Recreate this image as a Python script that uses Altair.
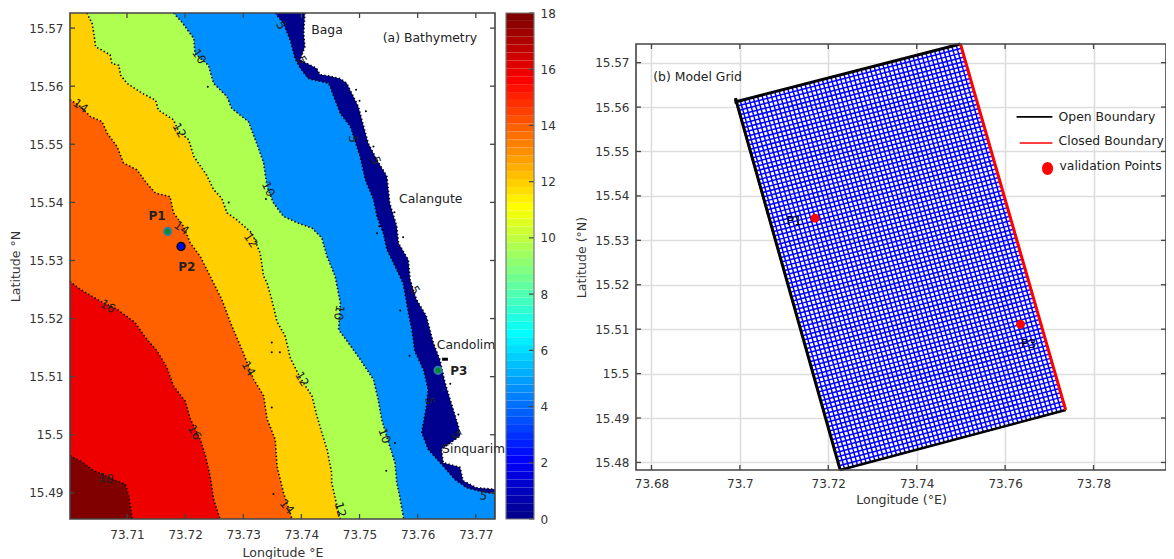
import altair as alt
import pandas as pd

FONT = "DejaVu Sans"
INK = "#333333"
FRAME = "#444444"

# ---------- Panel (a): contour boundaries (lon, lat)
c18_lon = [73.7002,73.7020,73.7043,73.7077,73.7097,73.7103,73.7109]
c18_lat = [15.4964,15.4955,15.4938,15.4923,15.4915,15.4895,15.4855]
c16_lon = [73.7002,73.7020,73.7054,73.7083,73.7114,73.7132,73.7152,73.7169,73.7180,73.7200,73.7209,73.7226,73.7235,73.7243,73.7249,73.7260]
c16_lat = [15.5264,15.5250,15.5230,15.5216,15.5193,15.5167,15.5144,15.5115,15.5084,15.5058,15.5027,15.4992,15.4964,15.4929,15.4889,15.4855]
c14_lon = [73.7002,73.7020,73.7037,73.7057,73.7066,73.7083,73.7094,73.7117,73.7134,73.7149,73.7174,73.7180,73.7197,73.7209,73.7226,73.7243,73.7249,73.7263,73.7278,73.7300,73.7318,73.7335,73.7341,73.7355,73.7358,73.7369,73.7384]
c14_lat = [15.5577,15.5565,15.5548,15.5539,15.5519,15.5496,15.5468,15.5456,15.5433,15.5416,15.5410,15.5382,15.5359,15.5330,15.5307,15.5273,15.5261,15.5233,15.5193,15.5141,15.5095,15.5067,15.5027,15.4992,15.4946,15.4901,15.4855]
c12_lon = [73.7031,73.7040,73.7043,73.7046,73.7071,73.7074,73.7086,73.7089,73.7100,73.7126,73.7149,73.7154,73.7180,73.7189,73.7206,73.7215,73.7237,73.7249,73.7263,73.7272,73.7289,73.7315,73.7329,73.7335,73.7341,73.7349,73.7358,73.7372,73.7381,73.7398,73.7418,73.7426,73.7435,73.7444,73.7452,73.7452,73.7461,73.7467]
c12_lat = [15.5726,15.5708,15.5691,15.5668,15.5654,15.5639,15.5636,15.5619,15.5605,15.5588,15.5576,15.5559,15.5542,15.5522,15.5508,15.5479,15.5447,15.5422,15.5407,15.5382,15.5370,15.5347,15.5313,15.5273,15.5261,15.5233,15.5195,15.5170,15.5132,15.5098,15.5067,15.5035,15.5004,15.4975,15.4935,15.4918,15.4878,15.4855]
c10_lon = [73.7180,73.7194,73.7215,73.7217,73.7240,73.7249,73.7272,73.7280,73.7309,73.7323,73.7335,73.7341,73.7352,73.7369,73.7395,73.7418,73.7435,73.7444,73.7458,73.7467,73.7464,73.7481,73.7501,73.7524,73.7532,73.7538,73.7550,73.7561,73.7564,73.7570,73.7576]
c10_lat = [15.5726,15.5711,15.5682,15.5656,15.5636,15.5605,15.5582,15.5562,15.5539,15.5502,15.5468,15.5427,15.5399,15.5376,15.5364,15.5356,15.5339,15.5307,15.5273,15.5227,15.5181,15.5158,15.5130,15.5095,15.5061,15.5027,15.4986,15.4952,15.4918,15.4889,15.4855]
c5_lon = [73.7355,73.7369,73.7381,73.7389,73.7398,73.7412,73.7447,73.7467,73.7484,73.7501,73.7510,73.7524,73.7530,73.7541,73.7547,73.7564,73.7575,73.7584,73.7590,73.7595,73.7610,73.7618,73.7615,73.7607,73.7618,73.7644,73.7664,73.7684,73.7713,73.7733,73.7733]
c5_lat = [15.5726,15.5708,15.5679,15.5648,15.5631,15.5613,15.5605,15.5553,15.5531,15.5479,15.5439,15.5405,15.5376,15.5347,15.5319,15.5284,15.5261,15.5210,15.5181,15.5144,15.5112,15.5078,15.5049,15.5004,15.4975,15.4946,15.4923,15.4909,15.4901,15.4899,15.4855]
shore_lon = [73.7406,73.7404,73.7406,73.7398,73.7426,73.7432,73.7450,73.7467,73.7478,73.7498,73.7507,73.7515,73.7530,73.7547,73.7552,73.7564,73.7567,73.7584,73.7587,73.7598,73.7615,73.7627,73.7638,73.7647,73.7661,73.7670,73.7673,73.7641,73.7644,73.7673,73.7678,73.7701,73.7733,73.7733]
shore_lat = [15.5726,15.5691,15.5668,15.5645,15.5631,15.5620,15.5617,15.5613,15.5605,15.5565,15.5531,15.5502,15.5473,15.5445,15.5399,15.5359,15.5330,15.5301,15.5267,15.5233,15.5204,15.5158,15.5130,15.5090,15.5044,15.5015,15.4998,15.4975,15.4952,15.4944,15.4921,15.4909,15.4906,15.4855]

stray_lon = [73.7239,73.7339,73.7275,73.7494,73.7500,73.7511,73.7524,73.7560,73.7575,73.7534,73.7530,73.7349,73.7349,73.7363,73.7349,73.7352,73.7570,73.7586,73.7656,73.7670,73.7546,73.7561]
stray_lat = [15.5599,15.5406,15.5400,15.5594,15.5575,15.5557,15.5496,15.5383,15.5340,15.5359,15.5347,15.5159,15.5142,15.5142,15.5047,15.4898,15.5214,15.5136,15.5088,15.5035,15.4938,15.4986]

lab_text = ["10","5","14","12","10","14","12","16","14","16","18","14","12","10","10","12","5","5","5","5","5","5","5"]
lab_lon  = [73.7224,73.7365,73.7020,73.7190,73.7343,73.7194,73.7313,73.7067,73.7309,73.7216,73.7064,73.7375,73.7401,73.7465,73.7543,73.7467,73.7489,73.7528,73.7401,73.7621,73.7595,73.7667,73.7713]
lab_lat  = [15.5651,15.5705,15.5566,15.5524,15.5423,15.5356,15.5335,15.5221,15.5114,15.5004,15.4925,15.4876,15.5096,15.5210,15.4998,15.4871,15.5509,15.5472,15.5645,15.5058,15.5249,15.5000,15.4895]
lab_ang  = [55,60,35,60,65,35,55,30,60,60,10,50,60,100,70,75,90,70,60,80,60,60,10]

place_text = ["Baga","(a) Bathymetry","Calangute","Candolim","Sinquarim"]
place_lon  = [73.7417,73.7540,73.7568,73.7633,73.7642]
place_lat  = [15.5697,15.5683,15.5406,15.5154,15.4975]
bold_text = ["P1","P2","P3"]
bold_lon  = [73.7137,73.7188,73.7656]
bold_lat  = [15.5377,15.5289,15.5109]

pts_lon = [73.7170,73.7635]
pts_lat = [15.5350,15.5111]
p2_lon = [73.7193]
p2_lat = [15.5324]
mark_lon = [73.7642,73.7652]
mark_lat = [15.5130,15.5130]

A_X = [73.7002,73.7733]
A_Y = [15.4855,15.5726]
a_xticks = [73.71,73.72,73.73,73.74,73.75,73.76,73.77]
a_yticks = [15.49,15.50,15.51,15.52,15.53,15.54,15.55,15.56,15.57]

# ---------- Colour bar
jet = ["#00008F","#00009F","#0000AF","#0000BF","#0000CF","#0000DF","#0000EF","#0000FF",
       "#0010FF","#0020FF","#0030FF","#0040FF","#0050FF","#0060FF","#0070FF","#0080FF",
       "#008FFF","#009FFF","#00AFFF","#00BFFF","#00CFFF","#00DFFF","#00EFFF","#00FFFF",
       "#10FFEF","#20FFDF","#30FFCF","#40FFBF","#50FFAF","#60FF9F","#70FF8F","#80FF80",
       "#8FFF70","#9FFF60","#AFFF50","#BFFF40","#CFFF30","#DFFF20","#EFFF10","#FFFF00",
       "#FFEF00","#FFDF00","#FFCF00","#FFBF00","#FFAF00","#FF9F00","#FF8F00","#FF8000",
       "#FF7000","#FF6000","#FF5000","#FF4000","#FF3000","#FF2000","#FF1000","#FF0000",
       "#EF0000","#DF0000","#CF0000","#BF0000","#AF0000","#9F0000","#8F0000","#800000"]
cb_ticks = [0,2,4,6,8,10,12,14,16,18]
band_colors = {"navy":"#00008F","blue":"#008FFF","lime":"#AFFF50","amber":"#FFCF00","orange":"#FF6000","red":"#EF0000","dark":"#800000"}

# ---------- Panel (b)
grid_corner_lon = [73.6991,73.7499,73.7737,73.7227]   # TL, TR, BR, BL
grid_corner_lat = [15.5612,15.5742,15.4918,15.4783]
N_COLS = 52
N_ROWS = 85
B_X = [73.6765,73.7964]
B_Y = [15.4783,15.5742]
b_xticks = [73.68,73.70,73.72,73.74,73.76,73.78]
b_yticks = [15.48,15.49,15.50,15.51,15.52,15.53,15.54,15.55,15.56,15.57]
open_lon = [73.7227,73.6990,73.6991,73.7499]
open_lat = [15.4783,15.5620,15.5612,15.5742]
bot_lon = [73.7227,73.7737]
bot_lat = [15.4783,15.4918]
closed_lon = [73.7499,73.7737]
closed_lat = [15.5742,15.4918]
leg_text = ["Open Boundary","Closed Boundary","validation Points"]
leg_lon = [73.7721,73.7721,73.7723]
leg_lat = [15.5578,15.5524,15.5467]
leg_open_lon = [73.7626,73.7707]
leg_open_lat = [15.5578,15.5578]
leg_closed_lon = [73.7633,73.7707]
leg_closed_lat = [15.5519,15.5519]
leg_dot_lon = [73.7696]
leg_dot_lat = [15.5462]
b_text = ["(b) Model Grid"]
b_text_lon = [73.6804]
b_text_lat = [15.5668]
b_lab_text = ["P1","P3"]
b_lab_lon = [73.7123,73.7653]
b_lab_lat = [15.5343,15.5067]

AW, AH = 425, 506
CW = 28
BW, BH = 530, 426

def XS(dom): return alt.Scale(domain=dom, nice=False, zero=False)

AXES = {
    "ax": dict(title="Longitude  °E", axis=alt.Axis(values=a_xticks, format=".2f", domain=False, ticks=False, grid=False, labelPadding=10, titlePadding=6)),
    "ay": dict(title="Latitude  °N", axis=alt.Axis(values=a_yticks, format=".2~f", domain=False, ticks=False, grid=False, labelPadding=7, titlePadding=6)),
    "bx": dict(title="Longitude (°E)", axis=alt.Axis(values=b_xticks, format=".2~f", domain=False, ticks=False, grid=True, gridColor="#dddddd", gridWidth=1.6, labelPadding=8, titlePadding=4)),
    "by": dict(title="Latitude (°N)", axis=alt.Axis(values=b_yticks, format=".2~f", domain=False, ticks=False, grid=True, gridColor="#dddddd", gridWidth=1.6, labelPadding=7, titlePadding=6)),
}
def akey(dom, c): return ("a" if dom[0] == A_X[0] or dom[0] == A_Y[0] else "b") + c

def xq(dom, f="lon:Q"): return alt.X(f, scale=XS(dom), **AXES[akey(dom, "x")])
def yq(dom, f="lat:Q"): return alt.Y(f, scale=XS(dom), **AXES[akey(dom, "y")])

def frame_ticks(W, H, xticks, yticks, xdom, ydom, L=5):
    """inward ticks on four sides, and a box round the plot"""
    one = alt.Chart(pd.DataFrame({"a":[0]}))
    xd = alt.Chart(pd.DataFrame({"v":xticks}))
    yd = alt.Chart(pd.DataFrame({"v":yticks}))
    t = dict(color=FRAME, strokeWidth=1.3)
    lay = [
        xd.mark_rule(**t).encode(x=xq(xdom,"v:Q"), y=alt.value(H-L), y2=alt.value(H)),
        xd.mark_rule(**t).encode(x=xq(xdom,"v:Q"), y=alt.value(0), y2=alt.value(L)),
        yd.mark_rule(**t).encode(y=yq(ydom,"v:Q"), x=alt.value(0), x2=alt.value(L)),
        yd.mark_rule(**t).encode(y=yq(ydom,"v:Q"), x=alt.value(W-L), x2=alt.value(W)),
        one.mark_rect(fillOpacity=0, stroke=FRAME, strokeWidth=1.6).encode(
            x=alt.value(0), x2=alt.value(W), y=alt.value(0), y2=alt.value(H)),
    ]
    return lay

# ---------- panel (a) layers
def band(lons, lats, color):
    d = pd.DataFrame({"lon":lons,"lat":lats,"x0":[A_X[0]]*len(lons)})
    return alt.Chart(d).mark_area(color=color, clip=True, orient="horizontal", opacity=1).encode(
        x=xq(A_X), x2="x0:Q", y=yq(A_Y))

def dotted(lons, lats):
    d = pd.DataFrame({"lon":lons,"lat":lats,"i":list(range(len(lons)))})
    return alt.Chart(d).mark_line(color="#000000", strokeWidth=1.6, strokeDash=[1.4,2.3], clip=True).encode(
        x=xq(A_X), y=yq(A_Y), order="i:Q")

contours = [(c18_lon,c18_lat),(c16_lon,c16_lat),(c14_lon,c14_lat),(c12_lon,c12_lat),(c10_lon,c10_lat),(c5_lon,c5_lat),(shore_lon,shore_lat)]

layers_a = [
    band(shore_lon, shore_lat, band_colors["navy"]),
    band(c5_lon, c5_lat, band_colors["blue"]),
    band(c10_lon, c10_lat, band_colors["lime"]),
    band(c12_lon, c12_lat, band_colors["amber"]),
    band(c14_lon, c14_lat, band_colors["orange"]),
    band(c16_lon, c16_lat, band_colors["red"]),
    band(c18_lon, c18_lat, band_colors["dark"]),
]
layers_a += [dotted(a,b) for a,b in contours]
layers_a.append(alt.Chart(pd.DataFrame({"lon":stray_lon,"lat":stray_lat})).mark_circle(color="#000000", size=4, opacity=1).encode(x=xq(A_X), y=yq(A_Y)))
layers_a.append(alt.Chart(pd.DataFrame({"lon":lab_lon,"lat":lab_lat,"t":lab_text,"ang":lab_ang})).mark_text(
    font=FONT, fontSize=12, color="#222222", align="center", baseline="middle").encode(
    x=xq(A_X), y=yq(A_Y), text="t:N", angle=alt.Angle("ang:Q", scale=None)))
layers_a.append(alt.Chart(pd.DataFrame({"lon":mark_lon,"lat":mark_lat})).mark_line(color="#000000", strokeWidth=3).encode(x=xq(A_X), y=yq(A_Y)))
layers_a.append(alt.Chart(pd.DataFrame({"lon":pts_lon,"lat":pts_lat})).mark_circle(color="#0B8A28", size=52, opacity=1, stroke="#2E7FA8", strokeWidth=2).encode(x=xq(A_X), y=yq(A_Y)))
layers_a.append(alt.Chart(pd.DataFrame({"lon":p2_lon,"lat":p2_lat})).mark_circle(color="#0000F0", size=62, opacity=1, stroke="#000000", strokeWidth=1.5).encode(x=xq(A_X), y=yq(A_Y)))
layers_a.append(alt.Chart(pd.DataFrame({"lon":place_lon,"lat":place_lat,"t":place_text})).mark_text(
    font=FONT, fontSize=12.4, color="#222222", align="left", baseline="middle").encode(x=xq(A_X), y=yq(A_Y), text="t:N"))
layers_a.append(alt.Chart(pd.DataFrame({"lon":bold_lon,"lat":bold_lat,"t":bold_text})).mark_text(
    font=FONT, fontSize=12, fontWeight="bold", color="#222222", align="left", baseline="middle").encode(x=xq(A_X), y=yq(A_Y), text="t:N"))
layers_a += frame_ticks(AW, AH, a_xticks, a_yticks, A_X, A_Y)
panel_a = alt.layer(*layers_a).properties(width=AW, height=AH)

# ---------- colour bar
n = len(jet)
cb_axis = alt.Axis(values=cb_ticks, orient="right", title=None, domain=False, ticks=False, grid=False, labelPadding=6, format="d")
cb_df = pd.DataFrame({"lo":[i*18/n for i in range(n)], "hi":[(i+1)*18/n for i in range(n)], "c":jet})
cb_rect = alt.Chart(cb_df).mark_rect().encode(
    x=alt.value(0), x2=alt.value(CW),
    y=alt.Y("lo:Q", scale=alt.Scale(domain=[0,18], nice=False), axis=cb_axis),
    y2="hi:Q",
    color=alt.Color("c:N", scale=None))
cb_t = alt.Chart(pd.DataFrame({"v":cb_ticks})).mark_rule(color=FRAME, strokeWidth=1.2).encode(
    y=alt.Y("v:Q", scale=alt.Scale(domain=[0,18], nice=False), axis=cb_axis), x=alt.value(CW-5), x2=alt.value(CW))
cb_box = alt.Chart(pd.DataFrame({"a":[0]})).mark_rect(fillOpacity=0, stroke="#777777", strokeWidth=1.2).encode(
    x=alt.value(0), x2=alt.value(CW), y=alt.value(0), y2=alt.value(AH))
colorbar = alt.layer(cb_rect, cb_t, cb_box).properties(width=CW, height=AH)

# ---------- panel (b)
TL, TR, BR, BL = list(zip(grid_corner_lon, grid_corner_lat))
mesh_rows = []
for k in range(N_COLS+1):
    f = k/N_COLS
    mesh_rows.append(dict(lon=TL[0]+(TR[0]-TL[0])*f, lat=TL[1]+(TR[1]-TL[1])*f,
                          lon2=BL[0]+(BR[0]-BL[0])*f, lat2=BL[1]+(BR[1]-BL[1])*f))
for k in range(N_ROWS+1):
    f = k/N_ROWS
    mesh_rows.append(dict(lon=TL[0]+(BL[0]-TL[0])*f, lat=TL[1]+(BL[1]-TL[1])*f,
                          lon2=TR[0]+(BR[0]-TR[0])*f, lat2=TR[1]+(BR[1]-TR[1])*f))
mesh = alt.Chart(pd.DataFrame(mesh_rows)).mark_rule(color="#0000FF", strokeWidth=1.5).encode(
    x=xq(B_X), x2="lon2:Q", y=yq(B_Y), y2="lat2:Q")

def bline(lons, lats, color, w):
    d = pd.DataFrame({"lon":lons,"lat":lats,"i":list(range(len(lons)))})
    return alt.Chart(d).mark_line(color=color, strokeWidth=w, clip=False).encode(x=xq(B_X), y=yq(B_Y), order="i:Q")

ellipse = "M -0.85 0 A 0.85 1 0 1 0 0.85 0 A 0.85 1 0 1 0 -0.85 0 Z"
layers_b = [
    mesh,
    bline(open_lon, open_lat, "#000000", 3),
    bline(bot_lon, bot_lat, "#000000", 2.5),
    bline(closed_lon, closed_lat, "#FF0000", 3),
    alt.Chart(pd.DataFrame({"lon":pts_lon,"lat":pts_lat})).mark_circle(color="#FF0000", size=80, opacity=1).encode(x=xq(B_X), y=yq(B_Y)),
    alt.Chart(pd.DataFrame({"lon":b_lab_lon,"lat":b_lab_lat,"t":b_lab_text})).mark_text(font=FONT, fontSize=12.4, color="#000000", align="center", baseline="middle").encode(x=xq(B_X), y=yq(B_Y), text="t:N"),
    alt.Chart(pd.DataFrame({"lon":b_text_lon,"lat":b_text_lat,"t":b_text})).mark_text(font=FONT, fontSize=12.4, color="#222222", align="left", baseline="middle").encode(x=xq(B_X), y=yq(B_Y), text="t:N"),
    alt.Chart(pd.DataFrame({"lon":leg_lon,"lat":leg_lat,"t":leg_text})).mark_text(font=FONT, fontSize=12.4, color="#222222", align="left", baseline="middle").encode(x=xq(B_X), y=yq(B_Y), text="t:N"),
    bline(leg_open_lon, leg_open_lat, "#000000", 1.6),
    bline(leg_closed_lon, leg_closed_lat, "#FF0000", 1.6),
    alt.Chart(pd.DataFrame({"lon":leg_dot_lon,"lat":leg_dot_lat})).mark_point(shape=ellipse, filled=True, color="#FF0000", size=169, opacity=1).encode(x=xq(B_X), y=yq(B_Y)),
]
layers_b += frame_ticks(BW, BH, b_xticks, b_yticks, B_X, B_Y)
panel_b = alt.layer(*layers_b).properties(width=BW, height=BH)

spacer = alt.Chart(pd.DataFrame({"a":[0]})).mark_point(opacity=0).encode(x=alt.value(0), y=alt.value(0)).properties(width=10, height=15)

chart = alt.hconcat(
    alt.hconcat(panel_a, colorbar, spacing=-5),
    alt.vconcat(spacer, panel_b, spacing=10),
    spacing=19,
).properties(padding={"left":1,"top":-1,"right":-1,"bottom":0}).configure_view(strokeWidth=0).configure_axis(
    labelFont=FONT, titleFont=FONT, labelFontSize=12, titleFontSize=12.6, labelColor=INK, titleColor=INK, titleFontWeight="normal",
)

chart.save("out.html", embed_options={"renderer": "svg", "actions": False})
